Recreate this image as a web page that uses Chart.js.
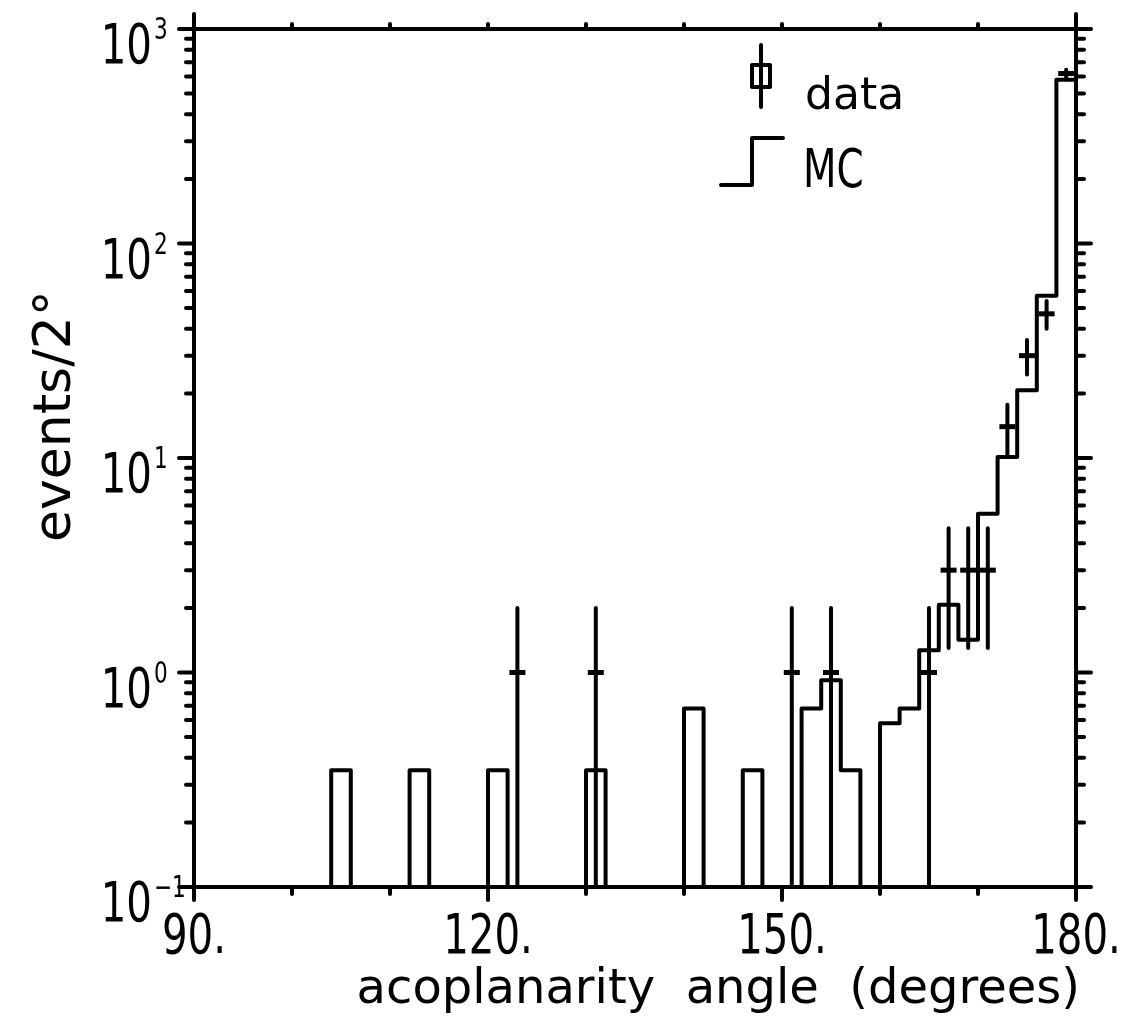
<!DOCTYPE html>
<html>
<head>
<meta charset="utf-8">
<script src="https://cdn.jsdelivr.net/npm/chart.js@4.4.1/dist/chart.umd.min.js"></script>
<style>
  html, body { margin: 0; padding: 0; background: #fff; }
  #caixa { width: 1121px; height: 1028px; position: relative; }
</style>
</head>
<body>
<div id="caixa"><canvas id="grafico"></canvas></div>
<script>
// MC histogram, 2 degree bins: lower edge of every non-empty bin and its content
const mcBinLow = [104, 112, 120, 130, 140, 146, 152, 154, 156, 160, 162, 164, 166, 168, 170, 172, 174, 176, 178];
const mcValues = [0.35, 0.35, 0.35, 0.35, 0.68, 0.35, 0.68, 0.92, 0.35, 0.58, 0.68, 1.27, 2.07, 1.42, 5.5, 10.1, 20.7, 57, 580];
const binWidth = 2;

// data points (bin centres), counts and errors
const dataX = [123, 131, 151, 155, 165, 167, 169, 171, 173, 175, 177, 179];
const dataY = [1, 1, 1, 1, 1, 3, 3, 3, 14, 30, 47, 620];
const dataErr = [1, 1, 1, 1, 1, 1.7, 1.7, 1.7, 3.7, 5.5, 6.9, 25];

// axis ticks
const xTickValues = [90, 120, 150, 180];
const xMinorValues = [100, 110, 130, 140, 160, 170];
const yTickValues = [0.1, 1, 10, 100, 1000];
const yTickExpoentes = ['−1', '0', '1', '2', '3'];

const X_MIN = 90, X_MAX = 180, Y_MIN = 0.1, Y_MAX = 1000;
const fonteEstreita = "'DejaVu Sans Condensed', 'DejaVu Sans', sans-serif";
const fonteRedonda = "'DejaVu Sans', sans-serif";

// outline of the histogram; empty bins sit on the lower edge of the axis
function contornoMC() {
  const pts = [];
  let fimAnterior = null;
  mcBinLow.forEach((lo, i) => {
    const hi = lo + binWidth;
    if (fimAnterior !== lo) {
      if (fimAnterior !== null) pts.push({ x: fimAnterior, y: Y_MIN });
      pts.push({ x: lo, y: Y_MIN });
    }
    pts.push({ x: lo, y: mcValues[i] });
    pts.push({ x: hi, y: mcValues[i] });
    fimAnterior = hi;
  });
  pts.push({ x: fimAnterior, y: Y_MIN });
  return pts;
}

function linha(ctx, x1, y1, x2, y2) {
  ctx.beginPath();
  ctx.moveTo(x1, y1);
  ctx.lineTo(x2, y2);
  ctx.stroke();
}

// the original lettering is tall and narrow, so squeeze it a bit
function textoEstreito(ctx, txt, x, y, tamanho, alinhamento) {
  ctx.save();
  ctx.font = tamanho + 'px ' + fonteEstreita;
  ctx.translate(x, y);
  ctx.scale(0.8, 1);
  ctx.textAlign = alinhamento;
  ctx.textBaseline = 'alphabetic';
  ctx.fillText(txt, 0, 0);
  ctx.restore();
}

const molduraPlugin = {
  id: 'moldura',
  afterDatasetsDraw(chart) {
    const { ctx, chartArea: a, scales: { x, y } } = chart;
    ctx.save();
    ctx.strokeStyle = '#000';
    ctx.fillStyle = '#000';
    ctx.lineCap = 'round';
    ctx.lineJoin = 'round';

    // error bars
    ctx.lineWidth = 4;
    dataX.forEach((xv, i) => {
      const px = x.getPixelForValue(xv);
      const topo = y.getPixelForValue(dataY[i] + dataErr[i]);
      const baixo = dataY[i] - dataErr[i];
      const pb = baixo > Y_MIN ? y.getPixelForValue(baixo) : a.bottom;
      linha(ctx, px, topo, px, pb);
    });

    // frame
    ctx.strokeRect(a.left, a.top, a.right - a.left, a.bottom - a.top);

    // y ticks on both sides, pointing out, and the labels on the left
    yTickValues.forEach((d, i) => {
      const py = y.getPixelForValue(d);
      linha(ctx, a.left - 15, py, a.left, py);
      linha(ctx, a.right, py, a.right + 15, py);
      textoEstreito(ctx, '10', a.left - 42, py + 34, 56, 'right');
      textoEstreito(ctx, yTickExpoentes[i], a.left - 40, py + 10, 30, 'left');
      if (d >= Y_MAX) return;
      for (let k = 2; k <= 9; k++) {
        const pm = y.getPixelForValue(k * d);
        linha(ctx, a.left - 8, pm, a.left, pm);
        linha(ctx, a.right, pm, a.right + 8, pm);
      }
    });

    // x ticks and labels
    xTickValues.forEach(v => {
      const px = x.getPixelForValue(v);
      linha(ctx, px, a.bottom, px, a.bottom + 13);
      const alto = (v === X_MIN || v === X_MAX) ? 15 : 5;
      linha(ctx, px, a.top, px, a.top - alto);
      textoEstreito(ctx, v + '.', px, a.bottom + 66, 56, 'center');
    });
    xMinorValues.forEach(v => {
      const px = x.getPixelForValue(v);
      linha(ctx, px, a.bottom, px, a.bottom + 7);
      linha(ctx, px, a.top, px, a.top - 5);
    });

    // axis titles
    ctx.font = '48px ' + fonteRedonda;
    ctx.textAlign = 'right';
    ctx.textBaseline = 'alphabetic';
    ctx.fillText('acoplanarity  angle  (degrees)', a.right + 4, a.bottom + 116);

    ctx.save();
    ctx.translate(a.left - 124, a.bottom - 345);
    ctx.rotate(-Math.PI / 2);
    ctx.textAlign = 'left';
    ctx.font = '52px ' + fonteRedonda;
    ctx.fillText('events/2°', 0, 0);
    ctx.restore();

    // legend
    const lx = a.left + 567, ly = a.top + 16;
    linha(ctx, lx, ly, lx, ly + 62);
    ctx.strokeRect(lx - 9, ly + 20, 18, 22);
    ctx.textAlign = 'left';
    ctx.font = '44px ' + fonteRedonda;
    ctx.fillText('data', lx + 44, ly + 64);

    ctx.beginPath();
    ctx.moveTo(lx - 40, ly + 140);
    ctx.lineTo(lx - 9, ly + 140);
    ctx.lineTo(lx - 9, ly + 93);
    ctx.lineTo(lx + 22, ly + 93);
    ctx.stroke();
    textoEstreito(ctx, 'MC', lx + 42, ly + 142, 54, 'left');

    ctx.restore();
  }
};

const ctx = document.getElementById('grafico').getContext('2d');
new Chart(ctx, {
  type: 'line',
  data: {
    datasets: [
      {
        label: 'MC',
        data: contornoMC(),
        borderColor: '#000',
        borderWidth: 4,
        borderJoinStyle: 'round',
        borderCapStyle: 'round',
        pointRadius: 0,
        fill: false,
        tension: 0
      },
      {
        label: 'data',
        data: dataX.map((xv, i) => ({ x: xv, y: dataY[i] })),
        showLine: false,
        pointStyle: 'line',
        pointRadius: 8,
        pointBorderWidth: 5,
        pointBorderColor: '#000',
        borderColor: '#000'
      }
    ]
  },
  options: {
    responsive: true,
    maintainAspectRatio: false,
    animation: false,
    layout: { padding: { top: 29, right: 45, left: 0, bottom: 0 } },
    scales: {
      x: {
        type: 'linear',
        min: X_MIN,
        max: X_MAX,
        afterBuildTicks: s => { s.ticks = xTickValues.map(v => ({ value: v })); },
        afterFit: s => { s.height = 141; s.paddingLeft = 0; s.paddingRight = 0; },
        grid: { display: false },
        border: { display: false },
        ticks: { display: false }
      },
      y: {
        type: 'logarithmic',
        min: Y_MIN,
        max: Y_MAX,
        afterBuildTicks: s => { s.ticks = yTickValues.map(v => ({ value: v })); },
        afterFit: s => { s.width = 194; s.paddingTop = 0; s.paddingBottom = 0; },
        grid: { display: false },
        border: { display: false },
        ticks: { display: false }
      }
    },
    plugins: {
      legend: { display: false },
      tooltip: { enabled: false }
    }
  },
  plugins: [molduraPlugin]
});
</script>
</body>
</html>
